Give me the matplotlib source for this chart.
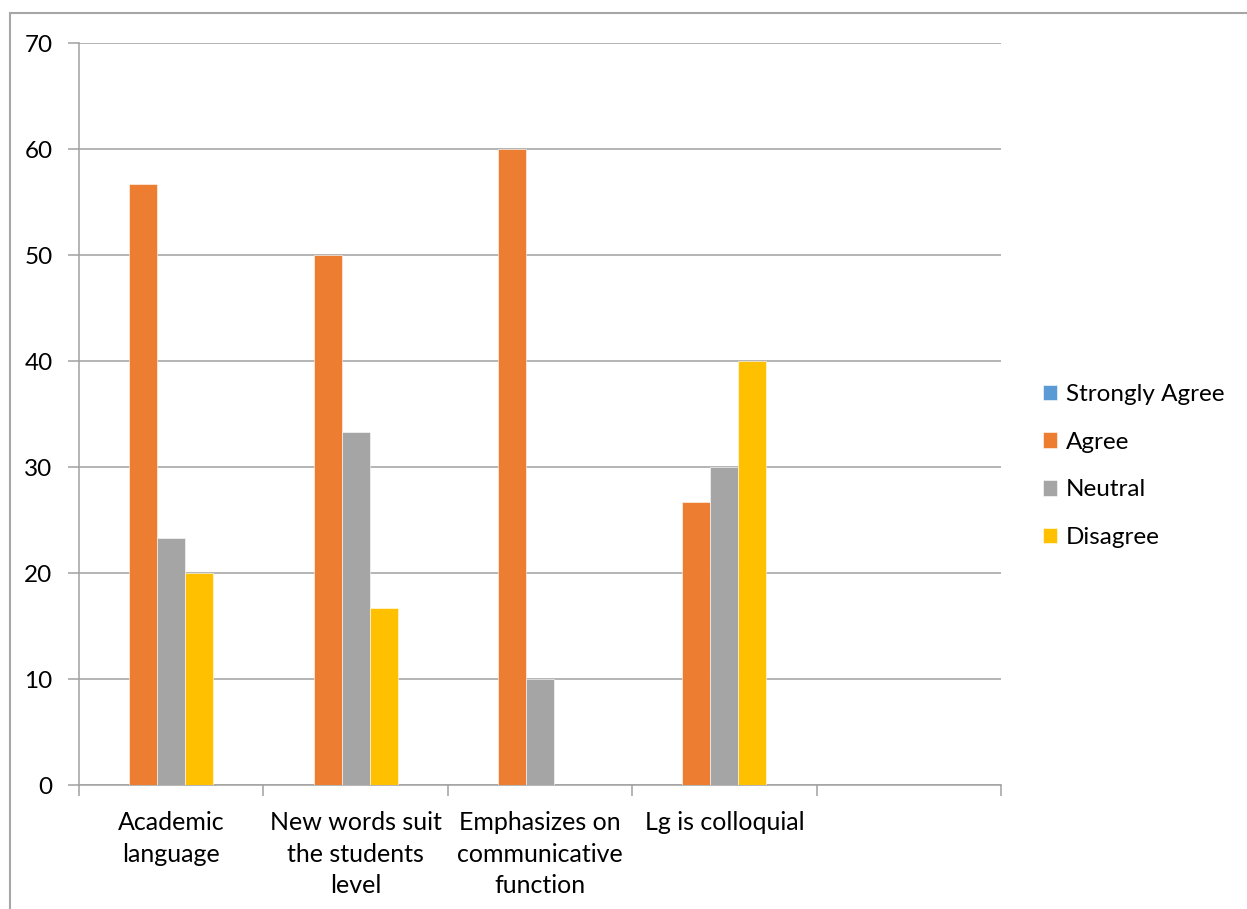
import matplotlib
matplotlib.use("Agg")
import matplotlib.pyplot as plt
from matplotlib.patches import Rectangle
import numpy as np

categories = ["Academic\nlanguage", "New words suit\nthe students\nlevel",
              "Emphasizes on\ncommunicative\nfunction", "Lg is colloquial", ""]
series_names = ["Strongly Agree", "Agree", "Neutral", "Disagree"]
strongly_agree = [0, 0, 0, 0, 0]
agree = [56.67, 50, 60, 26.67, 0]
neutral = [23.33, 33.33, 10, 30, 0]
disagree = [20, 16.67, 0, 40, 0]
colors = ["#5B9BD5", "#ED7D31", "#A5A5A5", "#FFC000"]
y_ticks = [0, 10, 20, 30, 40, 50, 60, 70]

plt.rcParams["font.family"] = ["Lato", "DejaVu Sans"]

fig = plt.figure(figsize=(12.47, 9.09), dpi=100)
ax = fig.add_axes([79 / 1247, 1 - 785 / 909, (1001 - 79) / 1247, (785 - 43) / 909])

# outer chart border (left and top visible)
fig.patches.append(Rectangle((10 / 1247, -0.1), 1.2, 1 - 13 / 909 + 0.1,
                             transform=fig.transFigure, fill=False,
                             edgecolor="#A6A6A6", linewidth=1.5))

x = np.arange(len(categories))
w = 0.152
all_series = [strongly_agree, agree, neutral, disagree]
for i, (vals, name, c) in enumerate(zip(all_series, series_names, colors)):
    ax.bar(x + (i - 2) * w, vals, width=w, color=c, label=name,
           edgecolor="white", linewidth=0.4, zorder=3)

ax.set_xlim(-0.5, len(categories) - 0.5)
ax.set_ylim(0, 70)
ax.set_yticks(y_ticks)
ax.set_yticklabels([str(t) for t in y_ticks], fontsize=17.5)
ax.yaxis.grid(True, color="#A0A0A0", linewidth=1.1, zorder=0)
ax.set_axisbelow(True)

ax.set_xticks(np.arange(-0.5, len(categories) + 0.5, 1.0))
ax.set_xticklabels([])
ax.set_xticks(x, minor=True)
ax.set_xticklabels(categories, minor=True, fontsize=18, linespacing=1.45,
                   va="top")
ax.tick_params(axis="x", which="minor", length=0, pad=19)
ax.tick_params(axis="x", which="major", length=8, color="#A0A0A0", width=1.1)
ax.tick_params(axis="y", length=8, color="#A0A0A0", width=1.1, pad=11)

for side in ["top", "right"]:
    ax.spines[side].set_visible(False)
for side in ["left", "bottom"]:
    ax.spines[side].set_color("#A0A0A0")
    ax.spines[side].set_linewidth(1.1)

fig.legend(loc="center left", bbox_to_anchor=(1021 / 1247, 1 - 466 / 909),
           frameon=False, fontsize=17.5, handlelength=0.6, handleheight=0.6,
           handletextpad=0.35, labelspacing=1.1)

fig.savefig("out.png", dpi=100, facecolor="white")
